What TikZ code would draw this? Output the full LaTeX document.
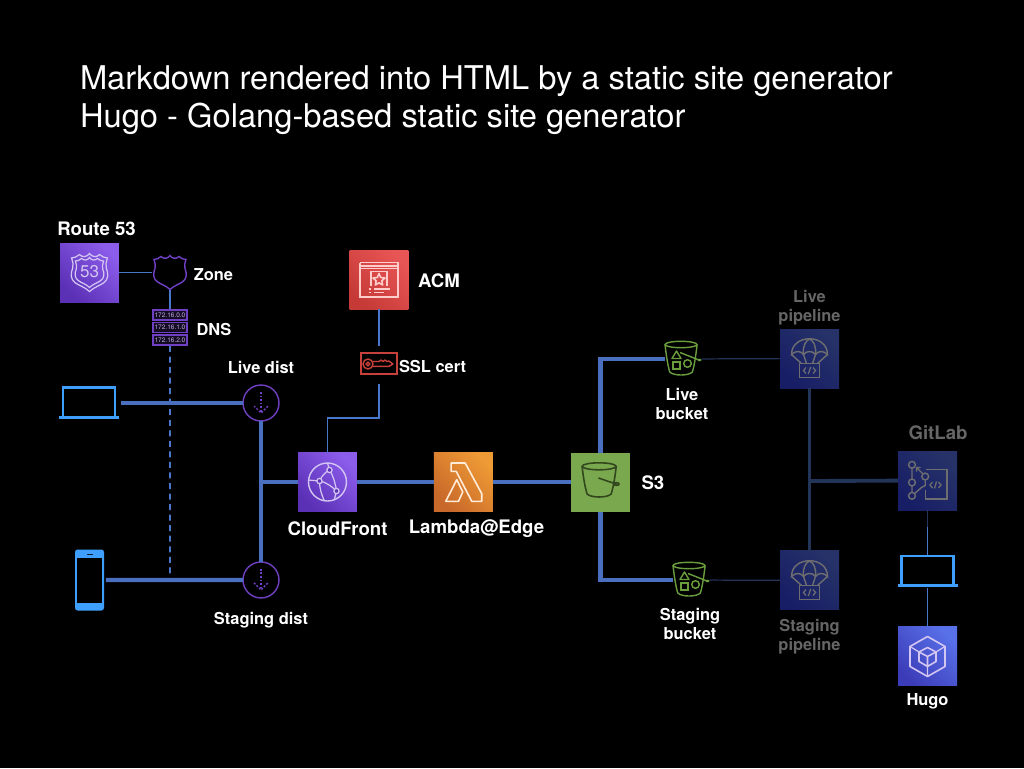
\documentclass[tikz,border=0pt]{standalone}
\usepackage{fontspec}
\setmainfont{TeX Gyre Heros}
\usepackage{tikz}

\definecolor{wireblue}{HTML}{4A6FBF}
\definecolor{wirethin}{HTML}{4A76CC}
\definecolor{wiredim}{HTML}{223458}
\definecolor{devblue}{HTML}{3F9FFF}
\definecolor{dimgrey}{HTML}{666666}
\definecolor{icongrey}{HTML}{6E6E70}
\definecolor{iconpurple}{HTML}{7040C4}
\definecolor{iconred}{HTML}{C8403C}
\definecolor{icongreen}{HTML}{6A9E3C}
\definecolor{iconbucket}{HTML}{33471F}
\definecolor{routeline}{HTML}{D4C6F2}
\definecolor{purplelow}{HTML}{5A30B5}
\definecolor{purplehigh}{HTML}{8C5CEB}
\definecolor{redlow}{HTML}{C53A36}
\definecolor{redhigh}{HTML}{E85555}
\definecolor{orangelow}{HTML}{C8682A}
\definecolor{orangehigh}{HTML}{EE9A35}
\definecolor{greenfill}{HTML}{7AA84E}
\definecolor{dimlow}{HTML}{181E66}
\definecolor{dimhigh}{HTML}{263268}
\definecolor{indigolow}{HTML}{3C3CB8}
\definecolor{indigohigh}{HTML}{5870E8}

\newcommand{\shieldpath}{(0,-17) .. controls (-2,-14) and (-6,-13) .. (-9,-16) .. controls (-11,-14) and (-14,-13) .. (-16,-13)
  .. controls (-15,-9) and (-14,-7) .. (-15,-4) .. controls (-17,1) and (-17,6) .. (-13,9) .. controls (-9,12) and (-4,13) .. (0,17)
  .. controls (4,13) and (9,12) .. (13,9) .. controls (17,6) and (17,1) .. (15,-4) .. controls (14,-7) and (15,-9) .. (16,-13)
  .. controls (14,-13) and (11,-14) .. (9,-16) .. controls (6,-13) and (2,-14) .. (0,-17) -- cycle}
\newcommand{\bucketpath}{(-17,-12) .. controls (-15,5) and (-13,12) .. (-12,15) .. controls (-8,19) and (8,19) .. (12,15) .. controls (13,12) and (15,5) .. (17,-12)}

\tikzset{
  zoneicon/.pic={\draw[iconpurple,line width=0.8pt] \shieldpath;},
  routeicon/.pic={
    \draw[routeline,line width=0.7pt,scale=1.12] \shieldpath;
    \draw[routeline,line width=0.7pt,scale=0.88] \shieldpath;
    \node[routeline,font=\fontsize{9.7}{10}\selectfont,inner sep=0pt] (-num) at (0,-1) {53};},
  dnsicon/.pic={
    \foreach \rowy/\rowtext/\rowname in {-12.5/172.16.0.0/a,0/172.16.1.0/b,12.5/172.16.2.0/c}{
      \draw[iconpurple,line width=0.8pt,fill=iconpurple!18!black] (-17,\rowy-5) rectangle (17,\rowy+5);
      \node[text=white!55!iconpurple,font=\fontsize{3.7}{4}\selectfont,inner sep=0pt] (-\rowname) at (0,\rowy) {\rowtext};}},
  disticon/.pic={
    \draw[iconpurple,line width=0.8pt,dash pattern=on 1.1pt off 0.9pt] (0,-11) -- (0,10);
    \draw[iconpurple,line width=0.8pt,dash pattern=on 1.1pt off 0.9pt] (-7,3) -- (0,10) -- (7,3);},
  laptopicon/.pic={
    \draw[devblue,line width=1.3pt] (-26,13) -- (-26,-15.5) -- (26,-15.5) -- (26,13);
    \fill[devblue] (-30,13) rectangle (30,16);},
  phoneicon/.pic={
    \fill[devblue,rounded corners=1.5pt] (-14.5,-30.5) rectangle (14.5,30.5);
    \fill[black] (-12.5,-22.5) rectangle (12.5,22.5);
    \fill[black!80!devblue] (-3,-26) rectangle (3,-24.8);},
  fronticon/.pic={
    \draw[routeline,line width=0.8pt] (0,0) circle (19);
    \draw[routeline,line width=0.7pt] (-8,-1) .. controls (-6,-6) and (-2,-10) .. (2,-12);
    \draw[routeline,line width=0.7pt] (-8,-1) .. controls (-2,0) and (4,4) .. (9,9);
    \draw[routeline,line width=0.7pt] (2,-12) .. controls (6,-6) and (8,2) .. (9,9);
    \draw[routeline,line width=0.7pt] (-19,-2) -- (-8,-1) (-8,-1) .. controls (-8,6) and (-6,13) .. (-3,19) (9,9) -- (7,17) (2,-12) -- (0,-19);
    \foreach \knoty in {(2,-12),(-8,-1),(9,9)}{
      \filldraw[routeline,fill=purplelow,line width=0.7pt] \knoty circle (2.6);}},
  lambdaicon/.pic={
    \draw[white!85!orange,line width=0.9pt,line join=round] (-12.3,-19) -- (1.7,-19) -- (18.3,11.7) -- (18.3,19.3) -- (8.3,19.3) -- (-7.3,-10.7) -- (-12.3,-10.7) -- cycle;
    \draw[white!85!orange,line width=0.9pt,line join=round] (-6.7,-2.3) -- (-17.7,19.3) -- (-5,19.3) -- (-0.7,10) -- cycle;},
  certicon/.pic={
    \draw[white!80!red,line width=0.8pt] (-19,-17) -- (19,-17) -- (19,15) (15,17.5) -- (-19,17.5) -- (-19,-17);
    \draw[white!80!red,line width=0.8pt] (-19,-13.5) -- (19,-13.5) (-19,-11) -- (19,-11);
    \draw[white!80!red,line width=0.8pt] (-8,6) -- (-8,-8) -- (8,-8) -- (8,6);
    \draw[white!80!red,line width=0.9pt,line join=round] (0,-6) -- (1.7,-2) -- (6,-1.5) -- (2.8,1.3) -- (3.7,5.5) -- (0,3.3) -- (-3.7,5.5) -- (-2.8,1.3) -- (-6,-1.5) -- (-1.7,-2) -- cycle;
    \draw[white!80!red,line width=0.8pt] (-10,9.5) -- (-8,9.5) (-5,9.5) -- (11,9.5) (-10,13) -- (-8,13) (-5,13) -- (5,13) (15,17.5) -- (19,17.5) -- (19,15);},
  keyicon/.pic={
    \draw[iconred,line width=0.8pt] (-11,0.5) circle (5) (-11,0.5) circle (1.9);
    \draw[iconred,line width=0.8pt,line join=round] (-6.5,-2) -- (0,-2) -- (2,-3.5) -- (4,-2) -- (6,-3.5) -- (8,-2) -- (10,-2.5) -- (14,0.5) -- (10,2.8) -- (-6.5,2.8);},
  s3icon/.pic={
    \draw[iconbucket,line width=0.9pt] (-1.3,-15.7) ellipse (17 and 3.5);
    \draw[iconbucket,line width=0.9pt,shift={(-1.3,-3)}] \bucketpath;
    \draw[iconbucket,line width=0.9pt] (-2,-4) -- (17,2.5);
    \draw[iconbucket,line width=0.9pt] (16,2) ellipse (2.6 and 1.4);},
  bucketicon/.pic={
    \draw[icongreen,line width=0.8pt] (-1,-14.5) ellipse (16 and 3.2);
    \draw[icongreen,line width=0.8pt,xscale=0.94,shift={(-1,-2)}] \bucketpath;
    \draw[icongreen,line width=0.8pt] (-2,-6.5) -- (17,1);
    \fill[icongreen] (17.5,1) ellipse (2 and 1.3);
    \draw[icongreen,line width=0.8pt,line join=round] (-10,-0.5) -- (-5.5,-8) -- (-1,-0.5) -- cycle;
    \draw[icongreen,line width=0.8pt] (-9,3) rectangle (-2,10);
    \draw[icongreen,line width=0.8pt] (5.5,4.5) circle (3.8);},
  chuteicon/.pic={
    \draw[icongrey,line width=0.8pt] (-18,-4) .. controls (-18,-25) and (18,-25) .. (18,-4) .. controls (14,-8) and (9,-8) .. (6,-4) .. controls (3,-8) and (-3,-8) .. (-6,-4) .. controls (-9,-8) and (-14,-8) .. (-18,-4) -- cycle;
    \draw[icongrey,line width=0.8pt] (-6,-4) .. controls (-7,-12) and (-4,-18) .. (0,-19.5) .. controls (4,-18) and (7,-12) .. (6,-4);
    \draw[icongrey,line width=0.8pt] (-18,-4) -- (-8,5) (-6,-4) -- (-3,5) (6,-4) -- (3,5) (18,-4) -- (8,5);
    \draw[icongrey,line width=0.8pt] (-10,5) rectangle (10,19);
    \draw[icongrey,line width=0.7pt] (-3.5,9) -- (-6,12) -- (-3.5,15) (3.5,9) -- (6,12) -- (3.5,15) (1.2,8.5) -- (-1.2,15.5);},
  repoicon/.pic={
    \draw[icongrey,line width=0.8pt] (-15.5,-15.7) circle (3.4) (-15.5,2) circle (3.4) (-15.5,15.3) circle (3.4) (-2.3,-4) circle (3.4);
    \draw[icongrey,line width=0.8pt] (-15.5,-12.3) -- (-15.5,-1.4) (-15.5,5.4) -- (-15.5,11.9) (-12.9,13) -- (-6,7) -- (-2.3,5) -- (-2.3,-0.6);
    \draw[icongrey,line width=0.7pt] (-4.5,-6.5) -- (-11,-13) (-11,-9) -- (-11,-13) -- (-7,-13);
    \draw[icongrey,line width=0.8pt] (-1.5,-11) -- (19.5,-11) -- (19.5,18.5) -- (-2,18.5) -- (-2,9);
    \draw[icongrey,line width=0.7pt] (5,1.5) -- (2.5,4.5) -- (5,7.5) (11,1.5) -- (13.5,4.5) -- (11,7.5) (9,1) -- (7,8);},
  cubeicon/.pic={
    \draw[routeline,line width=0.9pt,line join=round] (0,-20) -- (17.5,-10) -- (17.5,10) -- (0,20) -- (-17.5,10) -- (-17.5,-10) -- cycle;
    \draw[routeline,line width=0.9pt,line join=round] (0,-9) -- (8.5,-4.5) -- (8.5,5) -- (0,10) -- (-8.5,5) -- (-8.5,-4.5) -- cycle (-8.5,-4.5) -- (0,0) -- (8.5,-4.5) (0,0) -- (0,10);
    \draw[routeline,line width=0.7pt] (-17.5,-10) -- (-8.5,-4.5) (17.5,-10) -- (8.5,-4.5) (0,20) -- (0,10);}
}

\begin{document}
\begin{tikzpicture}[x=0.02cm,y=-0.02cm,inner sep=0pt,outer sep=0pt]
\tikzstyle{iconbox}=[rectangle,minimum size=1.18cm]
\tikzstyle{purplebox}=[iconbox,bottom color=purplelow,top color=purplehigh,shading angle=-45]
\tikzstyle{redbox}=[iconbox,bottom color=redlow,top color=redhigh,shading angle=-45]
\tikzstyle{orangebox}=[iconbox,bottom color=orangelow,top color=orangehigh,shading angle=-45]
\tikzstyle{greenbox}=[iconbox,fill=greenfill]
\tikzstyle{dimbox}=[iconbox,bottom color=dimlow,top color=dimhigh,shading angle=-45]
\tikzstyle{indigobox}=[iconbox,bottom color=indigolow,top color=indigohigh,shading angle=-45]
\tikzstyle{bigtext}=[font=\fontsize{10.6}{12}\selectfont\bfseries,text=white,align=center]
\tikzstyle{smalltext}=[font=\fontsize{9.35}{10.8}\selectfont\bfseries,text=white,align=center]
\tikzstyle{dimtext}=[smalltext,text=dimgrey]
\tikzstyle{thinwire}=[draw=wirethin,line width=0.9pt]
\tikzstyle{widewire}=[draw=wireblue,line width=2.4pt]
\tikzstyle{dimwire}=[draw=wiredim,line width=0.7pt]
\tikzstyle{dimwide}=[draw=wiredim,line width=2.2pt]
\fill[black] (0,0) rectangle (1024,768);
\node[font=\fontsize{18.6}{21.6}\selectfont,text=white,align=left,anchor=west] (title) at (80,100) {Markdown rendered into HTML by a static site generator\\Hugo - Golang-based static site generator};

% left column
\node[purplebox] (route53) at (89.5,272.5) {};
\node[bigtext] (route53label) [above of=route53,xshift=0.14cm,node distance=0.87cm] {Route 53};
\node[minimum width=0.7cm,minimum height=0.68cm] (zone) [right of=route53,node distance=1.61cm] {};
\node[smalltext] (zonelabel) [right of=zone,yshift=-0.05cm,node distance=0.87cm] {Zone};
\node[minimum width=0.74cm,minimum height=0.74cm] (dns) [below of=zone,node distance=1.1cm] {};
\node[smalltext] (dnslabel) [right of=dns,yshift=-0.04cm,node distance=0.88cm] {DNS};
\coordinate (dnsend) at (170,575);
\node[minimum width=1.2cm,minimum height=0.66cm] (laptop) at (89,403) {};
\node[circle,draw=iconpurple,line width=0.8pt,minimum size=0.72cm] (livedist) at (261,403) {};
\node[smalltext] (livelabel) [above of=livedist,node distance=0.72cm] {Live dist};
\node[minimum width=0.58cm,minimum height=1.22cm] (phone) at (89.5,580) {};
\node[circle,draw=iconpurple,line width=0.8pt,minimum size=0.72cm] (stagingdist) [below of=livedist,node distance=3.54cm] {};
\node[smalltext] (stagingdistlabel) [below of=stagingdist,node distance=0.8cm] {Staging dist};
\coordinate (distjoin) at (261,482);

% middle row
\node[purplebox] (cloudfront) at (327.5,482) {};
\node[bigtext] (frontlabel) [below of=cloudfront,xshift=0.2cm,node distance=0.94cm] {CloudFront};
\node[orangebox] (lambda) [right of=cloudfront,node distance=2.72cm] {};
\node[bigtext] (lambdalabel) [below of=lambda,xshift=0.26cm,node distance=0.94cm] {Lambda@Edge};
\node[greenbox] (s3) [right of=lambda,node distance=2.74cm] {};
\node[bigtext] (s3label) [right of=s3,yshift=-0.02cm,node distance=1.05cm] {S3};
\node[redbox] (acm) at (379,279.5) {};
\node[bigtext] (acmlabel) [right of=acm,yshift=-0.03cm,node distance=1.2cm] {ACM};
\node[draw=iconred,line width=0.8pt,minimum width=0.72cm,minimum height=0.42cm] (sslcert) at (379,363.5) {};
\node[smalltext] (ssllabel) [right of=sslcert,yshift=-0.07cm,node distance=1.07cm] {SSL cert};
\coordinate (sslbend) at (379,418);

% buckets and pipelines
\node[minimum width=0.68cm,minimum height=0.72cm] (livebucket) at (682,359) {};
\node[smalltext] (livebucketlabel) [below of=livebucket,node distance=0.89cm] {Live\\bucket};
\node[minimum width=0.68cm,minimum height=0.72cm] (stagingbucket) at (690,580) {};
\node[smalltext] (stagingbucketlabel) [below of=stagingbucket,node distance=0.87cm] {Staging\\bucket};
\node[dimbox] (livepipe) at (809.5,358.5) {};
\node[dimtext] (livepipelabel) [above of=livepipe,node distance=1.02cm] {Live\\pipeline};
\node[dimbox] (stagingpipe) [below of=livepipe,node distance=4.44cm] {};
\node[dimtext] (stagingpipelabel) [below of=stagingpipe,node distance=1.12cm] {Staging\\pipeline};
\coordinate (pipejoin) at (810,481);

% right column
\node[dimbox] (gitlab) at (927.5,480.5) {};
\node[bigtext,text=dimgrey] (gitlablabel) [above of=gitlab,xshift=0.21cm,node distance=0.95cm] {GitLab};
\coordinate (gitfade) at (927.5,527);
\node[minimum width=1.2cm,minimum height=0.66cm] (devlaptop) [below of=gitlab,node distance=1.82cm] {};
\node[indigobox] (hugo) [below of=gitlab,node distance=3.52cm] {};
\node[smalltext] (hugolabel) [below of=hugo,node distance=0.89cm] {Hugo};

% icons
\pic (routeglyph) at (route53) {routeicon};
\pic (zoneglyph) at (zone) {zoneicon};
\pic (dnsglyph) at (dns) {dnsicon};
\pic (laptopglyph) at (laptop) {laptopicon};
\pic (phoneglyph) at (phone) {phoneicon};
\pic (liveglyph) at (livedist) {disticon};
\pic (stagingglyph) at (stagingdist) {disticon};
\pic (frontglyph) at (cloudfront) {fronticon};
\pic (lambdaglyph) at (lambda) {lambdaicon};
\pic (acmglyph) at (acm) {certicon};
\pic (keyglyph) at (sslcert) {keyicon};
\pic (s3glyph) at (s3) {s3icon};
\pic (livebucketglyph) at (livebucket) {bucketicon};
\pic (stagingbucketglyph) at (stagingbucket) {bucketicon};
\pic (livechute) at (livepipe) {chuteicon};
\pic (stagingchute) at (stagingpipe) {chuteicon};
\pic (repoglyph) at (gitlab) {repoicon};
\pic (devglyph) at (devlaptop) {laptopicon};
\pic (cubeglyph) at (hugo) {cubeicon};

\path[thinwire] (route53) edge (zone);
\path[thinwire] (zone) edge (dns);
\path[thinwire,dashed,dash pattern=on 3.4pt off 2.6pt] (dns) edge (dnsend);

\path[widewire,shorten <=1pt] (laptop) edge (livedist);
\path[widewire,shorten <=1pt] (phone) edge (stagingdist);
\path[widewire] (livedist) edge (stagingdist);
\path[widewire] (cloudfront) edge (distjoin);
\path[widewire] (cloudfront) edge (lambda);
\path[widewire] (lambda) edge (s3);

\path[thinwire,shorten >=4pt] (acm) edge (sslcert);
\draw[thinwire,shorten <=5.7pt] (sslcert.south) -- (sslbend) -| (cloudfront);

\draw[widewire] (s3) |- (livebucket);
\draw[widewire] (s3) |- (stagingbucket);
\path[dimwire,shorten <=1.5pt] (livebucket) edge (livepipe);
\path[dimwire,shorten <=1.5pt] (stagingbucket) edge (stagingpipe);

\path[dimwide] (livepipe) edge (stagingpipe);
\path[dimwide] (gitlab) edge (pipejoin);
\path[dimwire] (gitlab) edge (gitfade);
\path[thinwire] (gitfade) edge (devlaptop);
\path[thinwire] (devlaptop) edge (hugo);
\end{tikzpicture}
\end{document}
